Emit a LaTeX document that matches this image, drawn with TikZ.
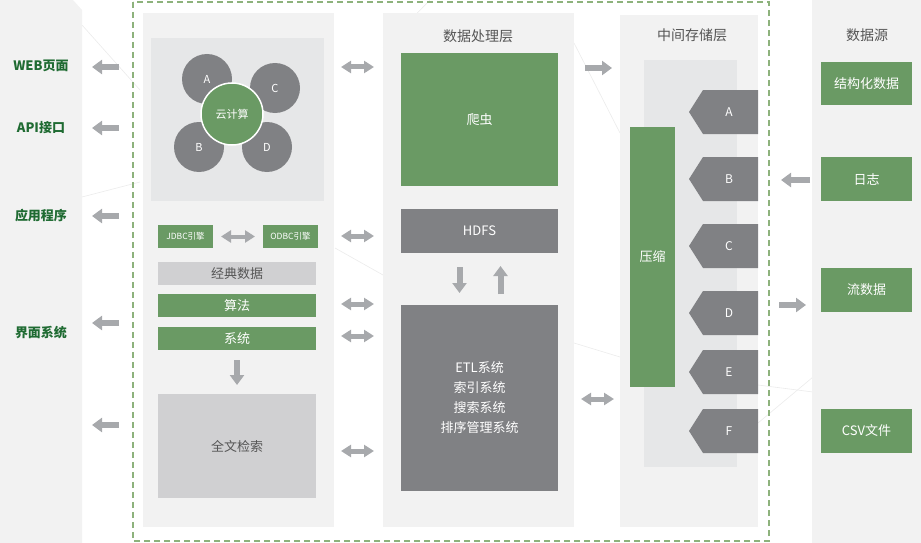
\documentclass[tikz,border=0pt]{standalone}
\usepackage{fontspec}
\setmainfont{Noto Sans CJK SC}
\usetikzlibrary{arrows.meta,positioning,calc}

\definecolor{panelgray}{HTML}{F2F2F2}
\definecolor{innergray}{HTML}{E6E7E8}
\definecolor{lightbox}{HTML}{D0D0D2}
\definecolor{darkbox}{HTML}{808184}
\definecolor{boxgreen}{HTML}{6A9A64}
\definecolor{labelgreen}{HTML}{1F6B32}
\definecolor{arrowgray}{HTML}{A7A9AC}
\definecolor{titlegray}{HTML}{555555}
\definecolor{dashgreen}{HTML}{8DB27C}

\tikzset{
    panel/.style={fill=panelgray, anchor=north west, inner sep=0pt, outer sep=0pt},
    greenbox/.style={fill=boxgreen, text=white, anchor=north west, inner sep=0pt, outer sep=0pt, font=\fontsize{13}{15}\selectfont},
    darkboxn/.style={fill=darkbox, text=white, anchor=north west, inner sep=0pt, outer sep=0pt, font=\fontsize{13}{15}\selectfont},
    lightboxn/.style={fill=lightbox, text=titlegray, anchor=north west, inner sep=0pt, outer sep=0pt, font=\fontsize{13}{15}\selectfont},
    title/.style={text=titlegray, font=\fontsize{14}{16}\selectfont},
    outlabel/.style={text=labelgreen, font=\fontsize{13}{15}\selectfont\bfseries},
    ball/.style={circle, fill=darkbox, text=white, minimum size=50pt, inner sep=0pt, font=\fontsize{11}{13}\selectfont},
    fatarrow/.style={draw=arrowgray, line width=6pt, -{Triangle[width=14pt,length=10pt]}},
    twoway/.style={draw=arrowgray, line width=5pt, {Triangle[width=12pt,length=10pt]}-{Triangle[width=12pt,length=10pt]}},
    faint/.style={draw=black!8, line width=0.6pt}
}

\begin{document}
\begin{tikzpicture}[x=1pt, y=-1pt]
    \useasboundingbox (0,0) rectangle (921,543);

    % faint background lines
    \draw[faint] (82,25) -- (140,90);
    \draw[faint] (82,197) -- (140,182);
    \draw[faint] (335,248) -- (383,275);
    \draw[faint] (574,43) -- (620,133);
    \draw[faint] (574,343) -- (620,357);
    \draw[faint] (758,385) -- (813,392);
    \draw[faint] (758,423) -- (813,377);
    \draw[faint] (430,0) -- (383,48);

    % outer panels
    \fill[panelgray] (0,0) -- (73,0) -- (82,10) -- (82,543) -- (0,543) -- cycle;
    \node[panel, minimum width=109, minimum height=543] (srcpanel) at (812,0) {};

    % dashed frame
    \draw[dashgreen, line width=1.4pt, dash pattern=on 6pt off 4pt] (133,2) rectangle (769,541);

    % column panels
    \node[panel, minimum width=191, minimum height=514] (appcol) at (143,13) {};
    \node[panel, minimum width=191, minimum height=514] (proccol) at (383,13) {};
    \node[panel, minimum width=138, minimum height=512] (storecol) at (620,15) {};

    % left outputs
    \node[outlabel] (web) at (41,66) {WEB页面};
    \node[outlabel] (api) at (41,128) {API接口};
    \node[outlabel] (appl) at (41,216) {应用程序};
    \node[outlabel] (ui) at (41,333) {界面系统};

    % cloud block
    \node[panel, fill=innergray, minimum width=173, minimum height=163] (cloudbg) at (151,38) {};
    \node[ball] (cA) at (207,79) {A};
    \node[ball] (cC) at (275,88) {C};
    \node[ball] (cB) at (199,147) {B};
    \node[ball] (cD) at (267,147) {D};
    \node[ball, fill=boxgreen, draw=white, line width=1.5pt, minimum size=62pt] (cloud) at (232,114) {云计算};

    % engines and apps
    \node[greenbox, minimum width=55, minimum height=23, font=\fontsize{8.5}{10}\selectfont] (jdbc) at (158,225) {JDBC引擎};
    \node[greenbox, minimum width=55, minimum height=23, font=\fontsize{8.5}{10}\selectfont] (odbc) at (263,225) {ODBC引擎};
    \draw[twoway, line width=4pt] ($(jdbc.east)+(8,0)$) -- ($(odbc.west)+(-8,0)$);
    \node[lightboxn, minimum width=158, minimum height=23] (classic) at (158,262) {经典数据};
    \node[greenbox, minimum width=158, minimum height=23] (algo) at (158,294) {算法};
    \node[greenbox, minimum width=158, minimum height=23] (sys) at (158,327) {系统};
    \node[lightboxn, minimum width=158, minimum height=104] (search) at (158,394) {全文检索};
    \draw[fatarrow] ($(sys.south)+(0,10)$) -- ($(search.north)+(0,-9)$);

    % processing layer
    \node[title] (proctitle) at (478,36) {数据处理层};
    \node[greenbox, minimum width=157, minimum height=133] (crawler) at (401,53) {爬虫};
    \node[darkboxn, minimum width=157, minimum height=44] (hdfs) at (401,209) {HDFS};
    \node[darkboxn, minimum width=157, minimum height=186, align=center, font=\fontsize{13}{20}\selectfont] (etl) at (401,305) {ETL系统\\索引系统\\搜索系统\\排序管理系统};
    \draw[fatarrow] ($(hdfs.south)+(-20,14)$) -- ($(etl.north)+(-20,-12)$);
    \draw[fatarrow] ($(etl.north)+(21,-11)$) -- ($(hdfs.south)+(21,13)$);

    % storage layer
    \node[title] (storetitle) at (692,35) {中间存储层};
    \node[panel, fill=innergray, minimum width=93, minimum height=407] (storebg) at (644,60) {};
    \node[greenbox, minimum width=45, minimum height=260] (zip) at (630,127) {压缩};
    \foreach \n/\y in {A/112,B/179,C/246,D/313,E/372,F/431} {
        \fill[darkbox] (758,\y-22) -- (703,\y-22) -- (689,\y) -- (703,\y+22) -- (758,\y+22) -- cycle;
        \node[text=white, font=\fontsize{12}{14}\selectfont] (tag\n) at (729,\y) {\n};
    }

    % data sources
    \node[title] (srctitle) at (867,35) {数据源};
    \node[greenbox, minimum width=91, minimum height=43] (struct) at (821,62) {结构化数据};
    \node[greenbox, minimum width=91, minimum height=44] (logs) at (821,157) {日志};
    \node[greenbox, minimum width=91, minimum height=44] (stream) at (821,268) {流数据};
    \node[greenbox, minimum width=91, minimum height=44] (csv) at (821,409) {CSV文件};

    % arrows to the outputs
    \foreach \y [count=\i] in {67,128,216,323,425} {
        \coordinate (outs\i) at (119,\y);
        \coordinate (oute\i) at (92,\y);
        \draw[fatarrow] (outs\i) -- (oute\i);
    }
    % arrows between apps and processing
    \foreach \y [count=\i] in {67,236,304,336,451} {
        \coordinate (mida\i) at (341,\y);
        \coordinate (midb\i) at (374,\y);
        \draw[twoway] (mida\i) -- (midb\i);
    }
    \draw[fatarrow] (585,68) coordinate (pa) -- (612,68) coordinate (pb);
    \draw[twoway] (581,399) coordinate (pc) -- (614,399) coordinate (pd);
    \draw[fatarrow] (810,180) coordinate (sa) -- (781,180) coordinate (sb);
    \draw[fatarrow] (779,305) coordinate (sc) -- (806,305) coordinate (sd);
\end{tikzpicture}
\end{document}
